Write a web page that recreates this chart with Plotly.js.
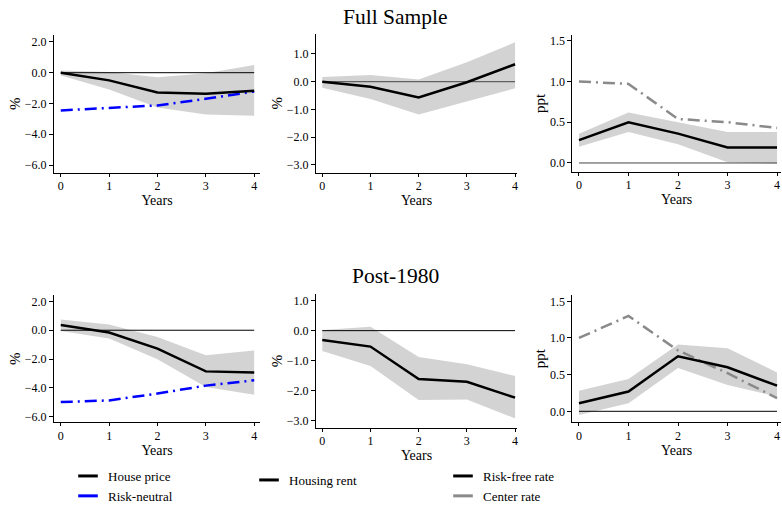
<!DOCTYPE html>
<html>
<head>
<meta charset="utf-8">
<script src="https://cdn.plot.ly/plotly-3.0.1.min.js"></script>
<style>html,body{margin:0;padding:0;background:#fff;}#chart{width:782px;height:506px;}</style>
</head>
<body>
<div id="chart"></div>
<script>
// ---- Data ----
const years = [0, 1, 2, 3, 4];

// Full sample
const fullHousePrice      = [0.00, -0.50, -1.28, -1.37, -1.17];
const fullHousePriceUpper = [0.15, 0.05, -0.29, -0.03, 0.50];
const fullHousePriceLower = [-0.18, -1.10, -2.26, -2.72, -2.80];
const fullRiskNeutral     = [-2.45, -2.30, -2.13, -1.70, -1.22];

const fullRent      = [0.00, -0.18, -0.57, -0.02, 0.63];
const fullRentUpper = [0.17, 0.24, 0.08, 0.70, 1.42];
const fullRentLower = [-0.22, -0.62, -1.18, -0.72, -0.24];

const fullRiskFree      = [0.28, 0.50, 0.36, 0.19, 0.19];
const fullRiskFreeUpper = [0.36, 0.62, 0.50, 0.38, 0.38];
const fullRiskFreeLower = [0.20, 0.38, 0.23, 0.01, -0.01];
const fullCenterRate    = [1.00, 0.97, 0.54, 0.50, 0.43];

// Post-1980
const postHousePrice      = [0.36, -0.16, -1.28, -2.86, -2.94];
const postHousePriceUpper = [0.74, 0.40, -0.47, -1.74, -1.40];
const postHousePriceLower = [-0.05, -0.58, -2.02, -3.95, -4.48];
const postRiskNeutral     = [-4.99, -4.88, -4.40, -3.85, -3.48];

const postRent      = [-0.31, -0.53, -1.61, -1.70, -2.23];
const postRentUpper = [0.02, 0.13, -0.88, -1.12, -1.51];
const postRentLower = [-0.68, -1.18, -2.31, -2.29, -2.92];

const postRiskFree      = [0.11, 0.27, 0.75, 0.60, 0.35];
const postRiskFreeUpper = [0.28, 0.44, 0.91, 0.86, 0.53];
const postRiskFreeLower = [-0.05, 0.11, 0.59, 0.36, 0.20];
const postCenterRate    = [1.00, 1.30, 0.83, 0.52, 0.18];

const zeroLine = [0, 0, 0, 0, 0];

// Tick labels
const pctTicks1 = [-6, -4, -2, 0, 2];
const pctTicks2 = [-3, -2, -1, 0, 1];
const pptTicks  = [0, 0.5, 1, 1.5];
const yearTicks = ['0', '1', '2', '3', '4'];

// ---- Styles ----
const FONT = 'Liberation Serif';
const BAND = '#d3d3d3';
const BLUE = '#0000ff';
const GRAY = '#8a8a8a';
const DASHDOT = '12px,5px,2px,5px';

const traces = [];
function panel(ax, up, lo, main, extra, extraColor, zeroColor) {
  const xa = 'x' + (ax === 1 ? '' : ax), ya = 'y' + (ax === 1 ? '' : ax);
  traces.push({x: years, y: lo, xaxis: xa, yaxis: ya, mode: 'lines', line: {width: 0, color: BAND}, showlegend: false, hoverinfo: 'skip'});
  traces.push({x: years, y: up, xaxis: xa, yaxis: ya, mode: 'lines', line: {width: 0, color: BAND}, fill: 'tonexty', fillcolor: BAND, showlegend: false, hoverinfo: 'skip'});
  traces.push({x: years, y: zeroLine, xaxis: xa, yaxis: ya, mode: 'lines', line: {width: 1, color: zeroColor}, showlegend: false, hoverinfo: 'skip'});
  if (extra) traces.push({x: years, y: extra, xaxis: xa, yaxis: ya, mode: 'lines', line: {width: 2.5, color: extraColor, dash: DASHDOT}, showlegend: false});
  traces.push({x: years, y: main, xaxis: xa, yaxis: ya, mode: 'lines', line: {width: 2.5, color: '#000'}, showlegend: false});
}
panel(1, fullHousePriceUpper, fullHousePriceLower, fullHousePrice, fullRiskNeutral, BLUE, '#000');
panel(2, fullRentUpper, fullRentLower, fullRent, null, null, '#444');
panel(3, fullRiskFreeUpper, fullRiskFreeLower, fullRiskFree, fullCenterRate, GRAY, '#444');
panel(4, postHousePriceUpper, postHousePriceLower, postHousePrice, postRiskNeutral, BLUE, '#000');
panel(5, postRentUpper, postRentLower, postRent, null, null, '#000');
panel(6, postRiskFreeUpper, postRiskFreeLower, postRiskFree, postCenterRate, GRAY, '#000');

// Legend entries (short line keys)
function key(name, color, legend) {
  traces.push({x: [null], y: [null], name: name, mode: 'markers', legend: legend,
    marker: {symbol: 'line-ew', size: 14, color: color, line: {width: 3, color: color}}, hoverinfo: 'skip'});
}
key('House price', '#000', 'legend');
key('Risk-neutral', BLUE, 'legend');
key('Housing rent', '#000', 'legend2');
key('Risk-free rate', '#000', 'legend3');
key('Center rate', GRAY, 'legend3');

function xaxis(domain, range, anchor) {
  return {domain: domain, range: range, anchor: anchor, tickvals: years, ticktext: yearTicks,
    showline: true, linecolor: '#000', linewidth: 1, ticks: 'outside', ticklen: 3, tickcolor: '#000',
    ticklabelstandoff: -1,
    showgrid: false, zeroline: false, tickfont: {family: FONT, size: 12, color: '#000'},
    title: {text: 'Years', font: {family: FONT, size: 14, color: '#000'}, standoff: 0}};
}
function yaxis(domain, range, anchor, tv, title) {
  return {domain: domain, range: range, anchor: anchor, tickvals: tv, tickformat: '.1f',
    showline: true, linecolor: '#000', linewidth: 1, ticks: 'outside', ticklen: 4, tickcolor: '#000',
    showgrid: false, zeroline: false, tickfont: {family: FONT, size: 12, color: '#000'},
    title: {text: title, font: {family: FONT, size: 15, color: '#000'}, standoff: 0}};
}

function legendBox(x, y) {
  return {x: x, y: y, xanchor: 'left', yanchor: 'top', traceorder: 'normal', bgcolor: 'rgba(0,0,0,0)',
    font: {family: FONT, size: 13, color: '#000'}};
}

const X1 = [54/782, 260/782], X2 = [316/782, 517/782], X3 = [572.3/782, 781/782];
const layout = {
  width: 782, height: 506, margin: {l: 0, r: 0, t: 0, b: 0, autoexpand: false},
  paper_bgcolor: '#fff', plot_bgcolor: '#fff',
  font: {family: FONT, color: '#000', size: 12},
  xaxis:  xaxis(X1, [-0.14, 4.12], 'y'),
  yaxis:  yaxis([1-172.7/506, 1-35/506], [-6.5, 2.45], 'x', pctTicks1, '%'),
  xaxis2: xaxis(X2, [-0.13, 4.04], 'y2'),
  yaxis2: yaxis([1-172.7/506, 1-34/506], [-3.28, 1.72], 'x2', pctTicks2, '%'),
  xaxis3: xaxis(X3, [-0.135, 4.08], 'y3'),
  yaxis3: yaxis([1-171.7/506, 1-35/506], [-0.107, 1.57], 'x3', pptTicks, 'ppt'),
  xaxis4: xaxis(X1, [-0.14, 4.12], 'y4'),
  yaxis4: yaxis([1-422.3/506, 1-295/506], [-6.4, 2.45], 'x4', pctTicks1, '%'),
  xaxis5: xaxis(X2, [-0.13, 4.04], 'y5'),
  yaxis5: yaxis([1-427.7/506, 1-294.3/506], [-3.23, 1.21], 'x5', pctTicks2, '%'),
  xaxis6: xaxis(X3, [-0.135, 4.08], 'y6'),
  yaxis6: yaxis([1-422.3/506, 1-295/506], [-0.15, 1.586], 'x6', pptTicks, 'ppt'),
  annotations: [
    {text: 'Full Sample', xref: 'paper', yref: 'paper', x: 395/782, y: 1-17/506, xanchor: 'center', yanchor: 'middle', showarrow: false, font: {family: FONT, size: 21.5, color: '#000'}},
    {text: 'Post-1980', xref: 'paper', yref: 'paper', x: 395/782, y: 1-276/506, xanchor: 'center', yanchor: 'middle', showarrow: false, font: {family: FONT, size: 21.5, color: '#000'}}
  ],
  legend:  legendBox(68/782, 1-461/506),
  legend2: legendBox(249/782, 1-465/506),
  legend3: legendBox(443/782, 1-461/506),
  showlegend: true
};

Plotly.newPlot('chart', traces, layout, {displayModeBar: false, staticPlot: true});
</script>
</body>
</html>
